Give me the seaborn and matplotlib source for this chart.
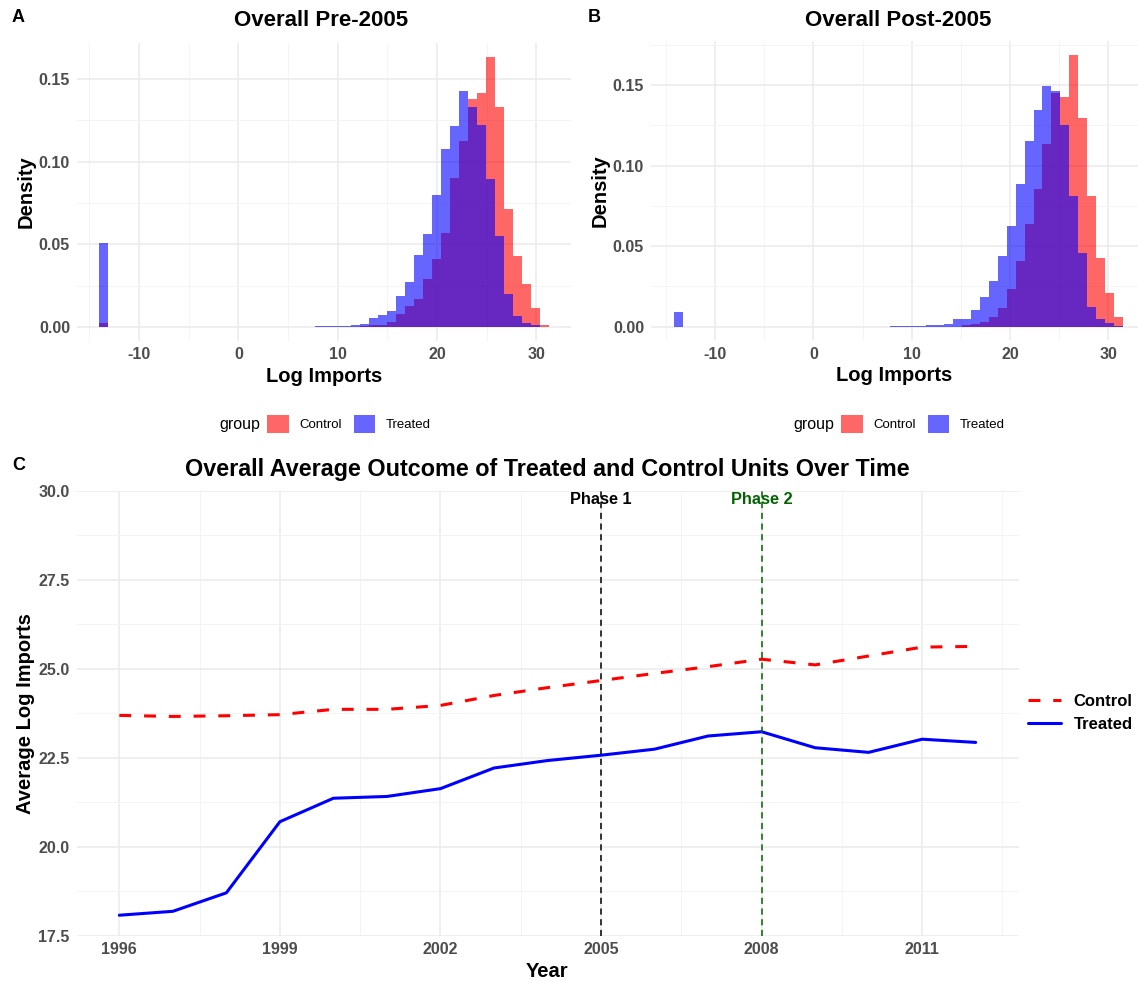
import numpy as np
import pandas as pd
import matplotlib
matplotlib.use("Agg")
import matplotlib.pyplot as plt
import seaborn as sns
from matplotlib.patches import Patch
from matplotlib.lines import Line2D
from matplotlib.ticker import MultipleLocator, FixedLocator, FormatStrFormatter

# ---------------- data ----------------
# Panel A (pre-2005): 50 bins
pre_edge_lo, pre_edge_hi = -13.98, 31.22
pre_treated = [0.051, 0, 0, 0, 0, 0, 0, 0, 0, 0,
               0, 0, 0, 0, 0, 0, 0, 0, 0, 0,
               0, 0, 0.0002, 0.0002, 0.0003, 0.0003, 0.0006, 0.0008, 0.001, 0.002,
               0.0054, 0.0075, 0.0097, 0.0186, 0.027, 0.0436, 0.0565, 0.080, 0.1077, 0.1214,
               0.143, 0.133, 0.1224, 0.0894, 0.0549, 0.020, 0.0065, 0.0024, 0.001, 0.0]
pre_control = [0.0025, 0, 0, 0, 0, 0, 0, 0, 0, 0,
               0, 0, 0, 0, 0, 0, 0, 0, 0, 0,
               0, 0, 0, 0, 0, 0, 0, 0, 0, 0.0005,
               0.001, 0.0014, 0.003, 0.008, 0.0127, 0.017, 0.0289, 0.041, 0.0569, 0.0904,
               0.1124, 0.138, 0.1414, 0.1636, 0.133, 0.0716, 0.043, 0.026, 0.0117, 0.001]

# Panel B (post-2005): 50 bins
post_edge_lo, post_edge_hi = -14.21, 31.54
post_treated = [0.0089, 0, 0, 0, 0, 0, 0, 0, 0, 0,
                0, 0, 0, 0, 0, 0, 0, 0, 0, 0,
                0, 0, 0, 0, 0.0002, 0.0002, 0.0003, 0.0004, 0.0008, 0.0012,
                0.0015, 0.0046, 0.0046, 0.0103, 0.0182, 0.0286, 0.0439, 0.0625, 0.0886, 0.1152,
                0.1346, 0.1496, 0.1460, 0.125, 0.0811, 0.0459, 0.0124, 0.0046, 0.0021, 0.0006]
post_control = [0, 0, 0, 0, 0, 0, 0, 0, 0, 0,
                0, 0, 0, 0, 0, 0, 0, 0, 0, 0,
                0, 0, 0, 0, 0, 0, 0, 0, 0, 0,
                0, 0, 0.0008, 0.0017, 0.003, 0.0062, 0.0114, 0.0232, 0.0406, 0.0637,
                0.0852, 0.1135, 0.1452, 0.1428, 0.1688, 0.1293, 0.0811, 0.0428, 0.0207, 0.0062]

# Panel C
years = [1996, 1997, 1998, 1999, 2000, 2001, 2002, 2003, 2004,
         2005, 2006, 2007, 2008, 2009, 2010, 2011, 2012]
control_avg = [23.69, 23.66, 23.68, 23.71, 23.86, 23.86, 23.97, 24.25, 24.47,
               24.67, 24.87, 25.06, 25.27, 25.11, 25.36, 25.61, 25.63]
treated_avg = [18.07, 18.18, 18.70, 20.70, 21.36, 21.41, 21.63, 22.21, 22.42,
               22.57, 22.74, 23.11, 23.23, 22.78, 22.65, 23.02, 22.93]
year_ticks = [1996, 1999, 2002, 2005, 2008, 2011]
groups = ["Control", "Treated"]
phase_years = [2005, 2008]
phase_labels = ["Phase 1", "Phase 2"]

# ---------------- style ----------------
sns.set_theme(style="white")
plt.rcParams['font.family'] = ['Liberation Sans', 'DejaVu Sans']
plt.rcParams['axes.unicode_minus'] = False
plt.rcParams['text.color'] = 'black'
plt.rcParams['axes.labelcolor'] = 'black'

W, H = 1138, 981
fig = plt.figure(figsize=(W / 100, H / 100), dpi=100)


def px_axes(x0, y0, x1, y1):
    return fig.add_axes([x0 / W, 1 - y1 / H, (x1 - x0) / W, (y1 - y0) / H])


GRID_MAJ = '#EBEBEB'
GRID_MIN = '#F4F4F4'
TICK_COL = '#4D4D4D'
TICK_SIZE = 11.5
LAB_SIZE = 14.5


def style_axes(ax):
    for s in ax.spines.values():
        s.set_visible(False)
    ax.set_axisbelow(True)
    ax.grid(which='major', color=GRID_MAJ, lw=1.1)
    ax.grid(which='minor', color=GRID_MIN, lw=0.7)
    ax.tick_params(which='both', length=0, labelsize=TICK_SIZE, labelcolor=TICK_COL, pad=5)
    for lab in ax.get_xticklabels() + ax.get_yticklabels():
        lab.set_fontweight('bold')


def hist_panel(ax, lo, hi, ctrl, treat, xlim, ylim):
    nb = len(ctrl)
    step = (hi - lo) / nb
    centers = [lo + step * (i + 0.5) for i in range(nb)]
    for vals, col in [(ctrl, 'red'), (treat, 'blue')]:
        d = pd.DataFrame({'x': centers, 'w': vals})
        sns.histplot(data=d, x='x', weights='w', bins=nb, binrange=(lo, hi),
                     stat='count', color=col, alpha=0.6, linewidth=0,
                     edgecolor='none', ax=ax)
    ax.set_xlim(*xlim)
    ax.set_ylim(*ylim)
    ax.xaxis.set_major_locator(MultipleLocator(10))
    ax.xaxis.set_minor_locator(MultipleLocator(5))
    ax.yaxis.set_major_locator(MultipleLocator(0.05))
    ax.yaxis.set_minor_locator(MultipleLocator(0.025))
    ax.yaxis.set_major_formatter(FormatStrFormatter('%.2f'))
    ax.set_xlabel("Log Imports", fontsize=LAB_SIZE, fontweight='bold', labelpad=3)
    ax.set_ylabel("Density", fontsize=LAB_SIZE, fontweight='bold', labelpad=2)
    style_axes(ax)


# Panel A
axA = px_axes(77, 43, 571, 340.5)
hist_panel(axA, pre_edge_lo, pre_edge_hi, pre_control, pre_treated,
           (-16.24, 33.48), (-0.0082, 0.1718))
# Panel B
axB = px_axes(651, 41.2, 1138, 340.3)
hist_panel(axB, post_edge_lo, post_edge_hi, post_control, post_treated,
           (-16.52, 33.02), (-0.0084, 0.1772))

fig.text(321 / W, 1 - 20 / H, "Overall Pre-2005", ha='center', va='center',
         fontsize=16, fontweight='bold')
fig.text(898 / W, 1 - 20 / H, "Overall Post-2005", ha='center', va='center',
         fontsize=16, fontweight='bold')
fig.text(12 / W, 1 - 18 / H, "A", ha='left', va='center', fontsize=13, fontweight='bold')
fig.text(588 / W, 1 - 18 / H, "B", ha='left', va='center', fontsize=13, fontweight='bold')
fig.text(12 / W, 1 - 466 / H, "C", ha='left', va='center', fontsize=13, fontweight='bold')

# group legends below A and B
for gx, lx in [(219, 267), (793, 841)]:
    fig.text(gx / W, 1 - 425 / H, "group", ha='left', va='center', fontsize=11.5)
    handles = [Patch(facecolor='red', alpha=0.6, edgecolor='none'),
               Patch(facecolor='blue', alpha=0.6, edgecolor='none')]
    fig.legend(handles, groups, loc='center left',
               bbox_to_anchor=(lx / W, 1 - 424 / H), ncol=2, frameon=False,
               fontsize=9.5, handlelength=1.65, handleheight=1.65,
               handletextpad=0.8, columnspacing=0.9, borderpad=0, borderaxespad=0)

# Panel C
axC = px_axes(76.5, 491, 1018.5, 935.5)
df = pd.DataFrame({
    'Year': years * 2,
    'Average Log Imports': control_avg + treated_avg,
    'group': [groups[0]] * len(years) + [groups[1]] * len(years),
})
sns.lineplot(data=df, x='Year', y='Average Log Imports', hue='group', style='group',
             palette={'Control': 'red', 'Treated': 'blue'},
             dashes={'Control': (3.9, 4.2), 'Treated': ''},
             linewidth=2.2, legend=False, ax=axC)
phase_cols = ['black', '#006400']
for yr, lab, col in zip(phase_years, phase_labels, phase_cols):
    axC.axvline(yr, color=col, lw=1.1, ls=(0, (4, 3)))
    axC.text(yr, 29.97, lab, ha='center', va='top', fontsize=11.8,
             fontweight='bold', color=col)
axC.set_xlim(1995.2, 2012.8)
axC.set_ylim(17.5, 30)
axC.xaxis.set_major_locator(FixedLocator(year_ticks))
axC.xaxis.set_minor_locator(FixedLocator([y + 1.5 for y in [1993] + year_ticks]))
axC.yaxis.set_major_locator(MultipleLocator(2.5))
axC.yaxis.set_minor_locator(MultipleLocator(1.25))
axC.yaxis.set_major_formatter(FormatStrFormatter('%.1f'))
axC.set_xlabel("Year", fontsize=LAB_SIZE, fontweight='bold', labelpad=3)
axC.set_ylabel("Average Log Imports", fontsize=LAB_SIZE, fontweight='bold', labelpad=2)
style_axes(axC)
fig.text(547.5 / W, 1 - 469 / H,
         "Overall Average Outcome of Treated and Control Units Over Time",
         ha='center', va='center', fontsize=16.8, fontweight='bold')

lh = [Line2D([0], [0], color='red', lw=2.2, dashes=(3.9, 4.2)),
      Line2D([0], [0], color='blue', lw=2.2)]
leg = fig.legend(lh, groups, loc='center left', bbox_to_anchor=(1028 / W, 1 - 713 / H),
                 frameon=False, prop={'size': 12, 'weight': 'bold'},
                 handlelength=2.0, handletextpad=0.75, labelspacing=0.5,
                 borderpad=0, borderaxespad=0)

fig.savefig("out.png", dpi=100, facecolor='white')
